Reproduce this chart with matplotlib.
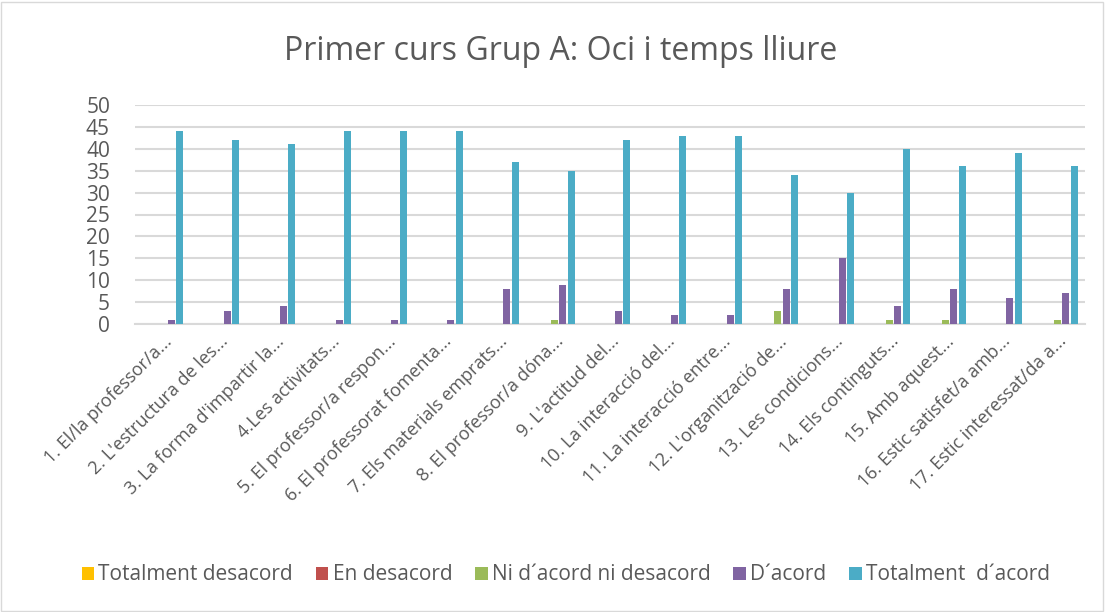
import matplotlib.pyplot as plt
import numpy as np

plt.rcParams.update({
    "font.family": ["Open Sans", "DejaVu Sans"],
    "font.size": 13,
    "text.color": "#595959",
    "xtick.color": "#595959",
    "ytick.color": "#595959",
})

categories = [
    "1. El/la professor/a...",
    "2. L'estructura de les...",
    "3. La forma d'impartir la...",
    "4.Les activitats...",
    "5. El professor/a respon...",
    "6. El professorat fomenta...",
    "7. Els materials emprats...",
    "8. El professor/a dóna...",
    "9. L'actitud del...",
    "10. La interacció del...",
    "11. La interacció entre...",
    "12. L'organització de...",
    "13. Les condicions...",
    "14. Els continguts...",
    "15. Amb aquest...",
    "16. Estic satisfet/a amb...",
    "17. Estic interessat/da a...",
]

series_names = [
    "Totalment desacord",
    "En desacord",
    "Ni d´acord ni desacord",
    "D´acord",
    "Totalment  d´acord",
]
totalment_desacord = [0] * 17
en_desacord = [0] * 17
ni_acord = [0, 0, 0, 0, 0, 0, 0, 1, 0, 0, 0, 3, 0, 1, 1, 0, 1]
d_acord = [1, 3, 4, 1, 1, 1, 8, 9, 3, 2, 2, 8, 15, 4, 8, 6, 7]
totalment_acord = [44, 42, 41, 44, 44, 44, 37, 35, 42, 43, 43, 34, 30, 40, 36, 39, 36]

colors = ["#ffc000", "#c0504d", "#9bbb59", "#8064a2", "#4bacc6"]

fig = plt.figure(figsize=(11.05, 6.12), dpi=100)
ax = fig.add_axes([135 / 1105, 1 - 324 / 612, 950 / 1105, 219 / 612])

x = np.arange(len(categories))
slot = 0.152
width = 0.125
all_series = [totalment_desacord, en_desacord, ni_acord, d_acord, totalment_acord]
for i, (vals, name, c) in enumerate(zip(all_series, series_names, colors)):
    ax.bar(x + (i - 2) * slot, vals, width, color=c, label=name, zorder=3)

ax.set_xlim(-0.5, len(categories) - 0.5)
ax.set_ylim(0, 50)
ax.set_yticks(range(0, 51, 5))
ax.yaxis.grid(True, color="#d9d9d9", linewidth=1.5, zorder=0)
for s in ["top", "right", "left"]:
    ax.spines[s].set_visible(False)
ax.spines["bottom"].set_color("#d9d9d9")
ax.spines["bottom"].set_linewidth(1.5)
ax.tick_params(axis="both", length=0)
ax.tick_params(axis="y", pad=18, labelsize=15)
ax.tick_params(axis="x", pad=6, labelsize=13)
ax.set_xticks(x)
ax.set_xticklabels(categories, rotation=45, ha="right", rotation_mode="anchor")

fig.text(0.507, 1 - 52 / 612, "Primer curs Grup A: Oci i temps lliure",
         ha="center", va="center", fontsize=23, color="#595959")

fig.legend(loc="center", bbox_to_anchor=(0.512, 1 - 575 / 612), ncol=5,
           frameon=False, fontsize=15, handlelength=0.6, handleheight=0.6,
           handletextpad=0.2, columnspacing=1.1)

fig.patches.append(plt.Rectangle((0.001, 0.002), 0.997, 0.995, transform=fig.transFigure,
                                 fill=False, edgecolor="#d9d9d9", linewidth=1))

fig.savefig("out.png", dpi=100)
